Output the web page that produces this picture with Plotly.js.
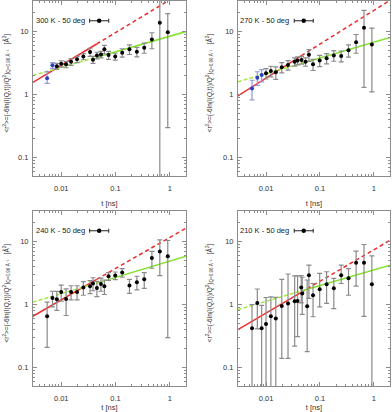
<!DOCTYPE html>
<html>
<head>
<meta charset="utf-8">
<script src="https://cdn.plot.ly/plotly-3.0.1.min.js"></script>
<style>
  html, body { margin: 0; padding: 0; background: #fff; }
  #chart { width: 392px; height: 412px; }
</style>
</head>
<body>
<div id="chart"></div>
<script>
// t values [ns]
const tNs = [0.0055, 0.0069, 0.0083, 0.0100, 0.0123, 0.0152, 0.0196, 0.0256, 0.0340, 0.0385, 0.0455,
             0.0540, 0.0625, 0.0745, 0.0990, 0.133, 0.181, 0.248, 0.339, 0.469, 0.657, 0.920];
const tNs210 = [0.0055, 0.0069, 0.0083, 0.0100, 0.0123, 0.0152, 0.0196, 0.0256, 0.0340, 0.0385, 0.0450,
                0.0470, 0.0580, 0.0625, 0.0745, 0.0990, 0.133, 0.181, 0.248, 0.339, 0.469, 0.657, 0.920];

const panelLabels = ['300 K - 50 deg', '270 K - 50 deg', '240 K - 50 deg', '210 K - 50 deg'];

// <r^2> values and error bars (up / down)
const r300  = [1.80, 2.90, 2.80, 3.07, 3.00, 3.30, 3.60, 4.00, 4.70, 3.55, 4.16, 4.30, 5.20, 4.20, 4.00, 4.60, 5.20, 4.75, 5.50, 7.40, 13.7, 9.70];
const up300 = [0.50, 0.30, 0.30, 0.35, 0.35, 0.40, 0.40, 0.45, 0.70, 0.45, 0.50, 0.50, 0.80, 0.60, 0.50, 0.70, 0.90, 0.80, 1.00, 2.10, 20.0, 9.40];
const dn300 = [0.30, 0.30, 0.30, 0.35, 0.35, 0.40, 0.40, 0.45, 0.70, 0.45, 0.50, 0.50, 0.80, 0.60, 0.50, 0.70, 0.90, 0.80, 1.00, 2.10, 14.0, 9.40];

const r270  = [1.25, 1.84, 2.03, 2.16, 2.35, 2.24, 2.70, 2.93, 3.31, 3.44, 3.52, 3.30, 4.24, 3.00, 3.46, 3.75, 4.16, 4.08, 5.00, 6.70, 11.4, 6.20];
const up270 = [0.43, 0.45, 0.45, 0.40, 0.45, 0.50, 0.50, 0.50, 0.50, 0.50, 0.50, 0.50, 0.90, 0.60, 0.70, 0.70, 0.80, 0.80, 1.10, 2.20, 10.1, 5.00];
const dn270 = [0.43, 0.45, 0.45, 0.40, 0.45, 0.50, 0.50, 0.50, 0.50, 0.50, 0.50, 0.50, 0.90, 0.60, 0.70, 0.70, 0.80, 0.80, 1.10, 2.20, 10.1, 5.10];

const r240  = [0.65, 1.27, 1.21, 1.58, 1.22, 1.58, 1.58, 1.85, 1.94, 2.15, 1.83, 2.12, 1.94, 2.80, 2.87, 3.20, 2.00, 2.25, 2.50, 5.45, 6.87, 5.80];
const up240 = [0.44, 0.35, 0.40, 0.45, 0.55, 0.40, 0.40, 0.45, 0.45, 0.50, 0.50, 0.50, 0.50, 0.40, 0.40, 0.50, 0.50, 0.55, 0.70, 1.50, 3.70, 4.50];
const dn240 = [0.44, 0.35, 0.40, 0.45, 0.55, 0.40, 0.40, 0.45, 0.45, 0.50, 0.50, 0.50, 0.50, 0.40, 0.40, 0.50, 0.50, 0.55, 0.70, 1.70, 4.00, 5.50];

const r210  = [0.42, 1.06, 0.42, 0.49, 0.65, 0.60, 0.95, 1.04, 1.13, 1.14, 1.86, 1.50, 0.94, 2.90, 1.40, 1.75, 2.10, 1.80, 2.90, 2.60, 4.60, 4.60, 2.10];
const up210 = [0.58, 0.70, 0.55, 0.80, 0.67, 0.70, 1.55, 2.00, 1.70, 1.70, 1.00, 1.20, 1.50, 1.30, 0.75, 1.35, 1.20, 0.80, 1.30, 1.10, 2.40, 4.30, 3.80];
const dn210 = [0.50, 0.65, 0.50, 0.50, 0.70, 0.70, 0.81, 0.90, 0.91, 0.83, 0.80, 0.80, 0.76, 1.65, 0.76, 0.83, 1.06, 0.94, 0.75, 1.20, 2.65, 3.95, 3.00];

// number of leading points drawn in blue
const blueCount = [2, 3, 0, 0];

// fit lines: values at t = 0.003, 0.045 (switch solid/dashed), 2
const fitT = [0.003, 0.045, 2];
const redFit = [[1.55, 6.3, 45], [0.95, 4.1, 31], [0.65, 2.5, 16.2], [0.40, 1.56, 10.4]];
const greenFit = [[2.0, 3.9, 9.9], [1.59, 3.1, 8.0], [1.09, 2.18, 5.8], [0.83, 1.64, 4.2]];

const xTickVals = [0.01, 0.1, 1];
const xTickText = ['0.01', '0.1', '1'];
const yTickVals = [0.1, 1, 10];
const yTickText = ['0.1', '1', '10'];

const panels = [
  { t: tNs, r: r300, up: up300, dn: dn300 },
  { t: tNs, r: r270, up: up270, dn: dn270 },
  { t: tNs, r: r240, up: up240, dn: dn240 },
  { t: tNs210, r: r210, up: up210, dn: dn210 },
];

const RED = '#f02a2a';
const GREEN = '#84e32c';
const GREEN_LIGHT = '#a6e84a';
const ERR = '#8a8a8a';
const FRAME = '#8c8c8c';
const FONT = 'Liberation Sans, Arial, sans-serif';

function minorTicks(lo, hi) {
  const out = [];
  for (let e = lo; e <= hi; e++) {
    for (let m = 2; m <= 9; m++) out.push(m * Math.pow(10, e));
  }
  return out;
}

const traces = [];
panels.forEach((p, k) => {
  const xa = k === 0 ? 'x' : 'x' + (k + 1);
  const ya = k === 0 ? 'y' : 'y' + (k + 1);
  const nb = blueCount[k];

  // fits
  traces.push({ x: fitT.slice(0, 2), y: redFit[k].slice(0, 2), mode: 'lines',
    line: { color: RED, width: 1.5 }, xaxis: xa, yaxis: ya, hoverinfo: 'skip' });
  traces.push({ x: fitT.slice(1), y: redFit[k].slice(1), mode: 'lines',
    line: { color: RED, width: 1.5, dash: '4px,3px' }, xaxis: xa, yaxis: ya, hoverinfo: 'skip' });
  traces.push({ x: fitT.slice(0, 2), y: greenFit[k].slice(0, 2), mode: 'lines',
    line: { color: GREEN_LIGHT, width: 1.5, dash: '4px,2px' }, xaxis: xa, yaxis: ya, hoverinfo: 'skip' });
  traces.push({ x: fitT.slice(1), y: greenFit[k].slice(1), mode: 'lines',
    line: { color: GREEN, width: 1.5 }, xaxis: xa, yaxis: ya, hoverinfo: 'skip' });

  // data points
  if (nb > 0) {
    traces.push({
      x: p.t.slice(0, nb), y: p.r.slice(0, nb), mode: 'markers', xaxis: xa, yaxis: ya,
      marker: { color: '#2b3fbf', size: 4 },
      error_y: { type: 'data', symmetric: false, array: p.up.slice(0, nb), arrayminus: p.dn.slice(0, nb),
        color: '#8f9be0', thickness: 1.2, width: 2.5 }
    });
  }
  traces.push({
    x: p.t.slice(nb), y: p.r.slice(nb), mode: 'markers', xaxis: xa, yaxis: ya,
    marker: { color: '#000', size: 4 },
    error_y: { type: 'data', symmetric: false, array: p.up.slice(nb), arrayminus: p.dn.slice(nb),
      color: ERR, thickness: 1.2, width: 2.5 }
  });
});

const xDomains = [[0.0842, 0.4745], [0.6071, 0.9949]];
const yDomains = [[0.5728, 0.9976], [0.0631, 0.4879]];

function xAxis(domain, anchor) {
  return {
    type: 'log', range: [-2.52, 0.30], domain, anchor,
    showline: true, mirror: 'allticks', linecolor: FRAME, linewidth: 1,
    ticks: 'inside', ticklen: 4, tickcolor: FRAME, tickwidth: 1,
    tickmode: 'array', tickvals: xTickVals, ticktext: xTickText, ticklabelstandoff: 5,
    tickfont: { size: 7.5, color: '#333', family: FONT },
    showgrid: false, zeroline: false,
    minor: { ticks: 'inside', ticklen: 2, tickcolor: FRAME, tickmode: 'array',
      tickvals: minorTicks(-3, 0), showgrid: false },
    title: { text: 't [ns]', font: { size: 7.5, color: '#333', family: FONT }, standoff: 8 }
  };
}
function yAxis(domain, anchor) {
  return {
    type: 'log', range: [-1.29, 1.48], domain, anchor,
    showline: true, mirror: 'allticks', linecolor: FRAME, linewidth: 1,
    ticks: 'inside', ticklen: 4, tickcolor: FRAME, tickwidth: 1,
    tickmode: 'array', tickvals: yTickVals, ticktext: yTickText, ticklabelstandoff: 2,
    tickfont: { size: 7.5, color: '#333', family: FONT },
    showgrid: false, zeroline: false,
    minor: { ticks: 'inside', ticklen: 2, tickcolor: FRAME, tickmode: 'array',
      tickvals: minorTicks(-2, 1), showgrid: false }
  };
}

const layout = {
  width: 392, height: 412,
  margin: { l: 0, r: 0, t: 0, b: 0 },
  paper_bgcolor: '#fff', plot_bgcolor: '#fff',
  showlegend: false,
  font: { family: FONT, color: '#333' },
  annotations: [],
  shapes: []
};

const yTitle = '&lt;r<sup>2</sup>&gt;=(-6ln(I(Q,t))/Q<sup>2</sup>)<sub>Q=0.96 Å⁻¹</sub>\u00a0\u00a0\u00a0[Å<sup>2</sup>]';

for (let k = 0; k < 4; k++) {
  const col = k % 2, row = Math.floor(k / 2);
  const sx = k === 0 ? '' : String(k + 1);
  layout['xaxis' + sx] = xAxis(xDomains[col], 'y' + sx);
  layout['yaxis' + sx] = yAxis(yDomains[row], 'x' + sx);

  const xr = 'x' + sx + ' domain', yr = 'y' + sx + ' domain';
  const ly = 0.887;
  layout.annotations.push({
    text: panelLabels[k], xref: xr, yref: yr, x: 0.35, y: ly, xanchor: 'right', yanchor: 'middle',
    showarrow: false, font: { size: 7.5, color: '#222', family: FONT }
  });
  layout.annotations.push({
    text: yTitle, xref: xr, yref: yr, x: col === 0 ? -0.175 : -0.19, y: 0.53,
    xanchor: 'center', yanchor: 'middle', textangle: -90, showarrow: false,
    font: { size: 6.5, color: '#333', family: FONT }
  });
  // legend symbol: errorbar-style line with a dot
  layout.shapes.push({ type: 'line', xref: xr, yref: yr, x0: 0.37, x1: 0.495, y0: ly, y1: ly,
    line: { color: '#222', width: 1 } });
  [0.37, 0.495].forEach(xe => layout.shapes.push({
    type: 'line', xref: xr, yref: yr, ysizemode: 'pixel', yanchor: ly, x0: xe, x1: xe, y0: -2, y1: 2,
    line: { color: '#222', width: 1 } }));
  layout.shapes.push({ type: 'circle', xref: xr, yref: yr, xsizemode: 'pixel', ysizemode: 'pixel',
    xanchor: 0.4325, yanchor: ly, x0: -2.2, x1: 2.2, y0: -2.2, y1: 2.2,
    fillcolor: '#000', line: { width: 0 } });
}

Plotly.newPlot('chart', traces, layout, { displayModeBar: false, staticPlot: true });
</script>
</body>
</html>
